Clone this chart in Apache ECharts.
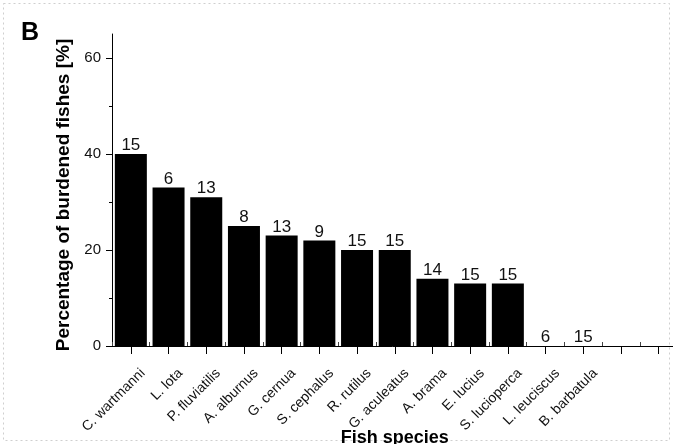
<!DOCTYPE html>
<html>
<head>
<meta charset="utf-8">
<script src="https://cdn.jsdelivr.net/npm/echarts@6/dist/echarts.min.js"></script>
<style>
html,body{margin:0;padding:0;background:#fff;}
#chart{width:673px;height:444px;}
</style>
</head>
<body>
<div id="chart"></div>
<script>
var categories = ['C. wartmanni','L. lota','P. fluviatilis','A. alburnus','G. cernua','S. cephalus','R. rutilus','G. aculeatus','A. brama','E. lucius','S. lucioperca','L. leuciscus','B. barbatula','',''];
var percentages = [40, 33, 31, 25, 23, 22, 20, 20, 14, 13, 13, 0, 0];
var sampleSizes = [15, 6, 13, 8, 13, 9, 15, 15, 14, 15, 15, 6, 15];
var yMajorTicks = [0, 20, 40, 60];
var yMinorTicks = [10, 30, 50];

var FONT = '"Liberation Sans", Arial, sans-serif';
var chart = echarts.init(document.getElementById('chart'), null, {renderer: 'canvas'});

var gridLeft = 112, gridTop = 34, gridH = 312, gridW = 565.5;

var option = {
  animation: false,
  backgroundColor: '#fff',
  graphic: [
    {type: 'rect', shape: {x: 3.5, y: 3.5, width: 666, height: 437}, style: {fill: 'none', stroke: '#cfcfcf', lineWidth: 1, lineDash: [2, 3]}, silent: true},
    {type: 'text', left: 21, top: 21, style: {text: 'B', font: 'bold 25px ' + FONT, fill: '#000'}}
  ],
  grid: [
    {left: gridLeft, top: gridTop, width: gridW, height: gridH, outerBoundsMode: 'none', containLabel: false},
    {left: gridLeft + 12, top: gridTop, width: gridW, height: gridH, outerBoundsMode: 'none', containLabel: false}
  ],
  xAxis: [
    {
      type: 'category', gridIndex: 0, data: categories,
      axisLine: {lineStyle: {color: '#000', width: 1}},
      axisTick: {show: true, alignWithLabel: true, interval: 0, length: 8, lineStyle: {color: '#000', width: 1}},
      axisLabel: {show: false},
      splitLine: {show: false},
      name: 'Fish species', nameLocation: 'middle', nameGap: 83,
      nameTextStyle: {fontFamily: FONT, fontWeight: 'bold', fontSize: 18, color: '#000'}
    },
    {
      type: 'category', gridIndex: 0, data: categories,
      axisLine: {show: false},
      axisTick: {show: true, alignWithLabel: false, interval: 0, length: 4, lineStyle: {color: '#444', width: 1}},
      axisLabel: {show: false}
    },
    {
      type: 'category', gridIndex: 1, data: categories,
      axisLine: {show: false},
      axisTick: {show: false},
      axisLabel: {interval: 0, rotate: 45, margin: 25, fontFamily: FONT, fontSize: 14, color: '#111'}
    }
  ],
  yAxis: [
    {
      type: 'value', gridIndex: 0, min: 0, max: 65, interval: 20,
      axisLine: {show: true, lineStyle: {color: '#000', width: 1}},
      axisTick: {show: false},
      axisLabel: {customValues: yMajorTicks, margin: 11, fontFamily: FONT, fontSize: 15, color: '#111'},
      splitLine: {show: false},
      name: 'Percentage of burdened fishes [%]', nameLocation: 'middle', nameGap: 33,
      nameTextStyle: {fontFamily: FONT, fontWeight: 'bold', fontSize: 19, color: '#000', padding: [0, 10, 0, 0]}
    },
    {
      type: 'value', gridIndex: 0, min: 0, max: 65, interval: 20, position: 'left',
      axisLine: {show: false},
      axisTick: {show: true, length: 6, customValues: yMajorTicks, lineStyle: {color: '#000', width: 1}},
      axisLabel: {show: false},
      splitLine: {show: false}
    },
    {
      type: 'value', gridIndex: 0, min: 0, max: 65, interval: 20, position: 'left',
      axisLine: {show: false},
      axisTick: {show: true, length: 3, customValues: yMinorTicks, lineStyle: {color: '#000', width: 1}},
      axisLabel: {show: false},
      splitLine: {show: false}
    },
    {
      type: 'value', gridIndex: 1, min: 0, max: 65, show: false
    }
  ],
  series: [{
    type: 'bar', xAxisIndex: 0, yAxisIndex: 0,
    data: percentages,
    barWidth: 32,
    itemStyle: {color: '#000'},
    label: {
      show: true, position: 'top', distance: 0,
      fontFamily: FONT, fontSize: 17, color: '#111',
      formatter: function (p) { return String(sampleSizes[p.dataIndex]); }
    }
  }]
};
chart.setOption(option);
</script>
</body>
</html>
